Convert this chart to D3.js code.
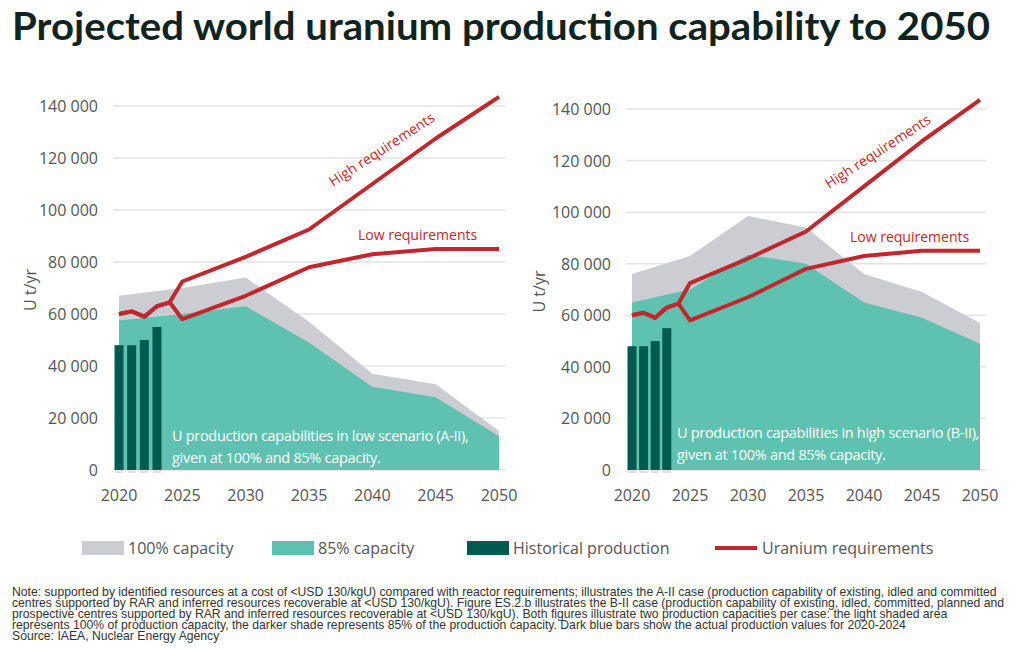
<!DOCTYPE html><html><head><meta charset="utf-8"><script src="https://cdn.jsdelivr.net/npm/d3@7"></script>
<style>body{margin:0;background:#fff;font-family:"Open Sans",sans-serif}</style></head><body><svg id="c" width="1024" height="650"></svg><script>
const capYears=[2020,2025,2030,2035,2040,2045,2050];
const lowCap100=[67000,70000,74000,57000,37000,33000,15000];
const lowCap85=[57500,60000,63000,49000,32000,28000,13000];
const highCap100=[76000,83000,98500,94000,76000,69000,57000];
const highCap85=[65000,70000,83500,80000,65000,59000,49000];
const histYears=[2020,2021,2022,2023];
const histProd=[48000,48000,50000,55000];
const reqYears=[2020,2021,2022,2023,2024,2025,2030,2035,2040,2045,2050];
const lowReq=[60000,61000,59000,63000,64500,58000,67000,78000,83000,85000,85000];
const highReq=[60000,61000,59000,63000,64500,72500,82000,92500,110000,127500,143500];
const yTicks=[0,20000,40000,60000,80000,100000,120000,140000];
const xTicks=[2020,2025,2030,2035,2040,2045,2050];
const svg=d3.select("#c");
const fmt=d=>d3.format(",")(d).replace(/,/g," ");
svg.append("text").attr("x",12).attr("y",40).attr("font-size",39).attr("font-weight",700).attr("fill","#10241f").attr("font-family","Lato, sans-serif").attr("textLength",978).attr("lengthAdjust","spacingAndGlyphs").text("Projected world uranium production capability to 2050");
function panel(x0,x1,y0,y1,c100,c85,label,hi,lo,lines,ylx){
  const x=d3.scaleLinear().domain([2020,2050]).range([x0,x1]);
  const y=d3.scaleLinear().domain([0,140000]).range([y1,y0]);
  const g=svg.append("g");
  yTicks.forEach(t=>{g.append("line").attr("x1",x0-6).attr("x2",x1+6).attr("y1",y(t)).attr("y2",y(t)).attr("stroke","#e3e3e3").attr("stroke-width",1.5);
    g.append("text").attr("x",x0-21).attr("y",y(t)+6).attr("text-anchor","end").attr("font-size",16).attr("fill","#555").text(fmt(t));});
  xTicks.forEach(t=>g.append("text").attr("x",x(t)).attr("y",y1+31).attr("text-anchor","middle").attr("font-size",16).attr("fill","#555").text(t));
  const ar=(v)=>d3.area().x((d,i)=>x(capYears[i])).y0(y(0)).y1(d=>y(d))(v);
  g.append("path").attr("d",ar(c100)).attr("fill","#cbcdd2");
  g.append("path").attr("d",ar(c85)).attr("fill","#5fc1b0");
  histYears.forEach((yr,i)=>{g.append("rect").attr("x",x(yr)-4.5).attr("width",9).attr("y",y(histProd[i])).attr("height",y(0)-y(histProd[i])).attr("fill","#005b4f");
    g.append("line").attr("x1",x(yr)-4).attr("x2",x(yr)+4).attr("y1",y(0)+2).attr("y2",y(0)+2).attr("stroke","#b8bcc0").attr("stroke-width",1);});
  const ln=d3.line().x((d,i)=>x(reqYears[i])).y(d=>y(d));
  [lowReq,highReq].forEach(v=>g.append("path").attr("d",ln(v)).attr("fill","none").attr("stroke","#c1272d").attr("stroke-width",4).attr("stroke-linejoin","round"));
  g.append("text").attr("transform",`translate(${hi[0]},${hi[1]}) rotate(-33)`).attr("font-size",14).attr("fill","#c1272d").text("High requirements");
  g.append("text").attr("x",lo[0]).attr("y",lo[1]).attr("font-size",14).attr("fill","#c1272d").text("Low requirements");
  lines.forEach((t,i)=>g.append("text").attr("x",label[0]).attr("y",label[1]+i*22).attr("font-size",14.5).attr("letter-spacing",-0.3).attr("fill","#fff").text(t));
  g.append("text").attr("transform",`translate(${ylx},${(y0+y1)/2+2}) rotate(-90)`).attr("text-anchor","middle").attr("font-size",16).attr("fill","#555").text("U t/yr");
}
panel(119,499,106,470,lowCap100,lowCap85,[172,441],[333,187],[358,240],["U production capabilities in low scenario (A-II),","given at 100% and 85% capacity."],36);
panel(632,980,109,470,highCap100,highCap85,[677,438],[829,189],[850,242],["U production capabilities in high scenario (B-II),","given at 100% and 85% capacity."],545);
const leg=[["rect","#cbcdd2",82,"100% capacity"],["rect","#5fc1b0",272,"85% capacity"],["rect","#005b4f",467,"Historical production"],["line","#c1272d",715,"Uranium requirements"]];
leg.forEach(l=>{if(l[0]=="rect")svg.append("rect").attr("x",l[2]).attr("y",541).attr("width",42).attr("height",14).attr("fill",l[1]);
  else svg.append("line").attr("x1",l[2]).attr("x2",l[2]+42).attr("y1",548).attr("y2",548).attr("stroke",l[1]).attr("stroke-width",4);
  svg.append("text").attr("x",l[2]+(l[0]=="rect"?46:47)).attr("y",554).attr("font-size",16).attr("fill","#555").text(l[3]);});
const notes=["Note: supported by identified resources at a cost of <USD 130/kgU) compared with reactor requirements;  illustrates the A-II case (production capability of existing, idled and committed",
"centres supported by RAR and inferred resources recoverable at <USD 130/kgU). Figure ES.2.b illustrates the B-II case (production capability of existing, idled, committed, planned and",
"prospective centres supported by RAR and inferred resources recoverable at <USD 130/kgU). Both figures illustrate two production capacities per case: the light shaded area",
"represents 100% of production capacity, the darker shade represents 85% of the production capacity. Dark blue bars show the actual production values for 2020-2024",
"Source: IAEA, Nuclear Energy Agency"];
notes.forEach((t,i)=>svg.append("text").attr("x",12).attr("y",596+i*11).attr("font-size",12.2).attr("fill","#333").attr("font-family","Liberation Sans, Arial, sans-serif").text(t));
</script></body></html>
